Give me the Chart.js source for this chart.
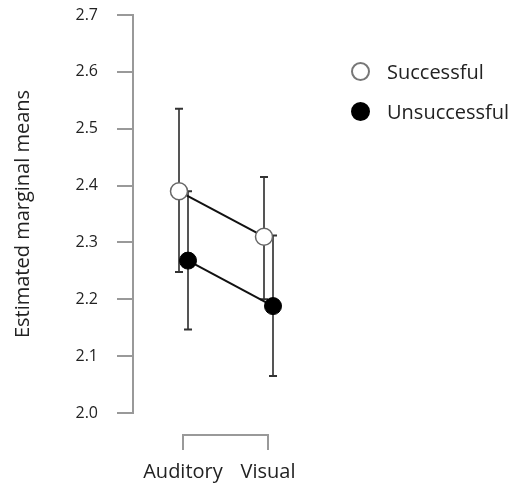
<!DOCTYPE html>
<html>
<head>
<meta charset="utf-8">
<script src="https://cdn.jsdelivr.net/npm/chart.js@4.4.0/dist/chart.umd.min.js"></script>
<style>
  body { margin: 0; background: #fff; }
  #wrap { position: relative; width: 518px; height: 484px; }
  .legend-item { position: absolute; left: 351px; font: 20px "Open Sans", sans-serif; color: #222; display: flex; align-items: center; }
  .dot { width: 15px; height: 15px; border-radius: 50%; margin-right: 17px; }
  .dot.open { border: 2px solid #777; background: #fff; }
  .dot.filled { border: 2px solid #000; background: #000; }
</style>
</head>
<body>
<div id="wrap">
  <canvas id="chart" width="518" height="484"></canvas>
  <div class="legend-item" style="top:58px"><span class="dot open"></span>Successful</div>
  <div class="legend-item" style="top:98px"><span class="dot filled"></span>Unsuccessful</div>
</div>
<script>
const categories = ['Auditory', 'Visual'];
const yTicks = [2.0, 2.1, 2.2, 2.3, 2.4, 2.5, 2.6, 2.7];

const successfulMeans = [2.39, 2.31];
const successfulLower = [2.248, 2.20];
const successfulUpper = [2.535, 2.415];

const unsuccessfulMeans = [2.268, 2.188];
const unsuccessfulLower = [2.147, 2.065];
const unsuccessfulUpper = [2.39, 2.312];

// small horizontal dodge so the two groups do not overlap
const successfulShift = -0.047;
const unsuccessfulShift = 0.059;

function toPoints(means, shift) {
  return means.map((m, i) => ({ x: i + 1 + shift, y: m }));
}

const errorBars = [
  { lower: successfulLower, upper: successfulUpper, shift: successfulShift },
  { lower: unsuccessfulLower, upper: unsuccessfulUpper, shift: unsuccessfulShift }
];

const errorBarPlugin = {
  id: 'errorBars',
  beforeDatasetsDraw(chart) {
    const ctx = chart.ctx;
    const xs = chart.scales.x;
    const ys = chart.scales.y;
    ctx.save();
    errorBars.forEach(bar => {
      bar.lower.forEach((lo, i) => {
        const x = xs.getPixelForValue(i + 1 + bar.shift);
        const yLo = ys.getPixelForValue(lo);
        const yHi = ys.getPixelForValue(bar.upper[i]);
        ctx.strokeStyle = '#555';
        ctx.lineWidth = 2;
        ctx.beginPath();
        ctx.moveTo(x, yLo);
        ctx.lineTo(x, yHi);
        ctx.stroke();
        ctx.strokeStyle = '#333';
        ctx.beginPath();
        ctx.moveTo(x - 4, yLo);
        ctx.lineTo(x + 4, yLo);
        ctx.moveTo(x - 4, yHi);
        ctx.lineTo(x + 4, yHi);
        ctx.stroke();
      });
    });
    ctx.restore();
  }
};

// bracket-style x axis, set apart below the plot
const bracketPlugin = {
  id: 'bracket',
  afterDraw(chart) {
    const ctx = chart.ctx;
    const xs = chart.scales.x;
    const top = chart.chartArea.bottom + 22;
    const x1 = xs.getPixelForValue(1);
    const x2 = xs.getPixelForValue(categories.length);
    ctx.save();
    ctx.strokeStyle = '#999';
    ctx.lineWidth = 2;
    ctx.beginPath();
    ctx.moveTo(x1, top + 15);
    ctx.lineTo(x1, top);
    ctx.lineTo(x2, top);
    ctx.lineTo(x2, top + 15);
    ctx.stroke();
    ctx.restore();
  }
};

new Chart(document.getElementById('chart'), {
  type: 'scatter',
  data: {
    datasets: [
      {
        label: 'Successful',
        data: toPoints(successfulMeans, successfulShift),
        showLine: true,
        borderColor: '#111',
        borderWidth: 2,
        pointRadius: 8.5,
        pointBackgroundColor: '#fff',
        pointBorderColor: '#666',
        pointBorderWidth: 1.5
      },
      {
        label: 'Unsuccessful',
        data: toPoints(unsuccessfulMeans, unsuccessfulShift),
        showLine: true,
        borderColor: '#111',
        borderWidth: 2,
        pointRadius: 8.5,
        pointBackgroundColor: '#000',
        pointBorderColor: '#000',
        pointBorderWidth: 1
      }
    ]
  },
  options: {
    responsive: false,
    animation: false,
    layout: { padding: { top: 15, right: 198, bottom: 0, left: 0 } },
    plugins: { legend: { display: false }, tooltip: { enabled: false } },
    scales: {
      x: {
        type: 'linear',
        min: 1 - 50 / 85,
        max: 1 - 50 / 85 + 2.2,
        grid: { display: false, drawTicks: false },
        border: { display: false },
        afterBuildTicks: scale => {
          scale.ticks = categories.map((c, i) => ({ value: i + 1 }));
        },
        afterFit: scale => { scale.height = 71; scale.paddingLeft = 0; scale.paddingRight = 0; },
        ticks: {
          autoSkip: false,
          maxRotation: 0,
          padding: 47,
          color: '#222',
          font: { family: 'Open Sans', size: 20 },
          callback: value => categories[value - 1]
        }
      },
      y: {
        min: 2.0,
        max: 2.7,
        afterBuildTicks: scale => {
          scale.ticks = yTicks.map(v => ({ value: v }));
        },
        afterFit: scale => { scale.width = 133; scale.paddingTop = 0; scale.paddingBottom = 0; },
        grid: { drawOnChartArea: false, drawTicks: true, tickLength: 16, color: '#999', lineWidth: 2 },
        border: { display: true, color: '#999', width: 2 },
        ticks: {
          padding: 19,
          color: '#222',
          font: { family: 'Open Sans', size: 16 },
          callback: value => value.toFixed(1)
        },
        title: {
          display: true,
          text: 'Estimated marginal means',
          color: '#222',
          font: { family: 'Open Sans', size: 20 },
          padding: { top: 11, bottom: 40 }
        }
      }
    }
  },
  plugins: [errorBarPlugin, bracketPlugin]
});
</script>
</body>
</html>
